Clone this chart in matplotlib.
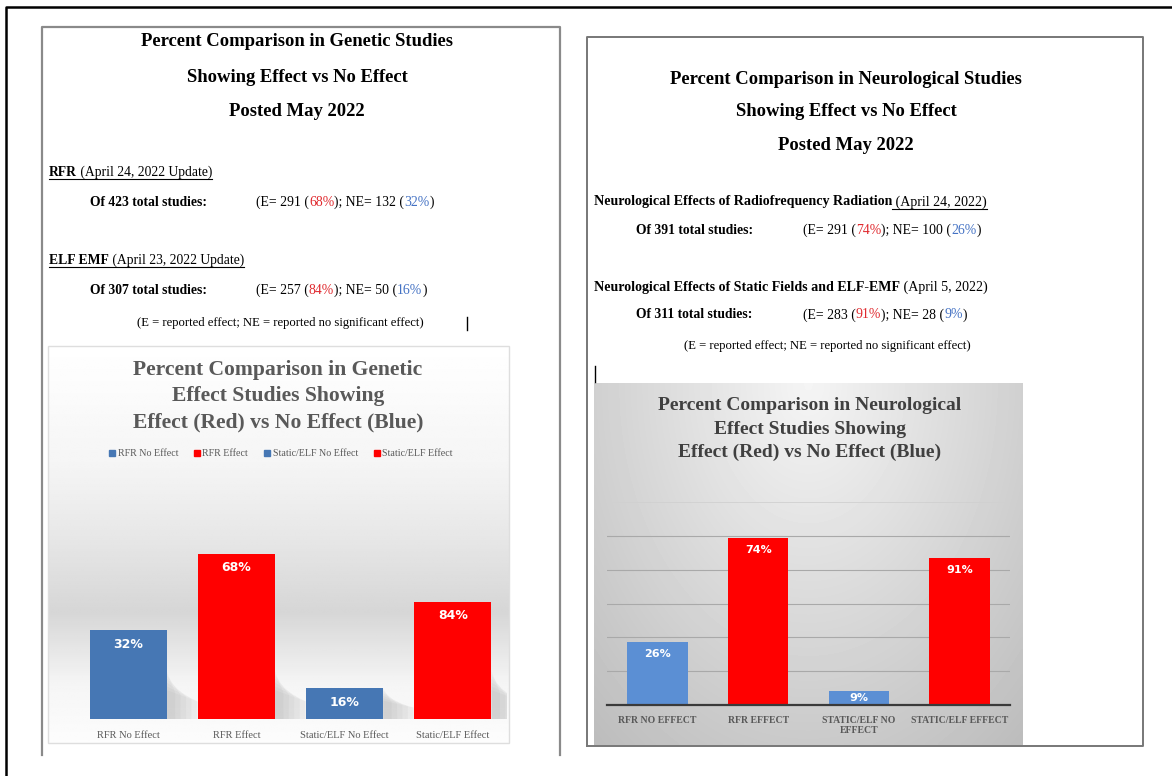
import matplotlib.pyplot as plt
import numpy as np
from matplotlib.patches import Rectangle, Polygon

W, H = 1172, 776
SERIF = ['Liberation Serif', 'DejaVu Serif']
SANS = ['DejaVu Sans']

# ---- data -------------------------------------------------------------
gen_cats = ['RFR No Effect', 'RFR Effect', 'Static/ELF No Effect', 'Static/ELF Effect']
gen_labels = ['32%', '68%', '16%', '84%']
gen_heights = [40.5, 75.5, 14, 53.5]      # bar heights as drawn in the picture
gen_colors = ['#4677b4', '#ff0000', '#4677b4', '#ff0000']

neu_cats = ['RFR NO EFFECT', 'RFR EFFECT', 'STATIC/ELF NO\nEFFECT', 'STATIC/ELF EFFECT']
neu_labels = ['26%', '74%', '9%', '91%']
neu_heights = [37, 98.5, 8.4, 87]
neu_colors = ['#5b8fd4', '#ff0000', '#5b8fd4', '#ff0000']

gen_head = ['Percent Comparison in Genetic Studies', 'Showing Effect vs No Effect', 'Posted May 2022']
neu_head = ['Percent Comparison in Neurological Studies', 'Showing Effect vs No Effect', 'Posted May 2022']
gen_title = ['Percent Comparison in Genetic', 'Effect Studies Showing', 'Effect (Red) vs No Effect (Blue)']
neu_title = ['Percent Comparison in Neurological', 'Effect Studies Showing', 'Effect (Red) vs No Effect (Blue)']
note = '(E = reported effect; NE = reported no significant effect)'

RED_T = '#e0292e'
BLUE_T = '#4472c4'

fig = plt.figure(figsize=(W / 100, H / 100), dpi=100)
ax0 = fig.add_axes([0, 0, 1, 1])
ax0.set_xlim(0, W)
ax0.set_ylim(H, 0)
ax0.axis('off')


def box(x0, y0, x1, y1):
    return [x0 / W, 1 - y1 / H, (x1 - x0) / W, (y1 - y0) / H]


def rich(x, y, parts, size):
    arts = []
    for s, color, weight in parts:
        if not arts:
            t = ax0.text(x, y, s, color=color, fontweight=weight, fontsize=size,
                         family=SERIF, va='center', ha='left')
        else:
            t = ax0.annotate(s, xy=(1, 0.5), xycoords=arts[-1], color=color,
                             fontweight=weight, fontsize=size, family=SERIF,
                             va='center', ha='left')
        arts.append(t)
    return arts


# ---- frames -----------------------------------------------------------
ax0.plot([6, 6, W], [H, 7, 7], color='black', lw=1.8)
ax0.plot([42, 42, 560, 560], [755, 27, 27, 755], color='#8a8a8a', lw=1.6)
ax0.plot([587, 587, 1143, 1143, 587], [746, 37, 37, 746, 746], color='#777777', lw=1.4)

# ---- left document text ------------------------------------------------
for s, yy in zip(gen_head, [42, 77, 111]):
    ax0.text(297, yy, s, fontsize=13.4, fontweight='bold', family=SERIF, ha='center', va='center')

u1 = rich(49, 172, [('RFR', 'black', 'bold'), (' (April 24, 2022 Update)', 'black', 'normal')], 9.8)
rich(90, 202, [('Of 423 total studies:', 'black', 'bold')], 9.8)
rich(256, 202, [('(E= 291 (', 'black', 'normal'), ('68%', RED_T, 'normal'), ('); NE= 132 (', 'black', 'normal'),
                ('32%', BLUE_T, 'normal'), (')', 'black', 'normal')], 9.9)
u2 = rich(49, 260, [('ELF EMF', 'black', 'bold'), (' (April 23, 2022 Update)', 'black', 'normal')], 9.8)
rich(90, 290, [('Of 307 total studies:', 'black', 'bold')], 9.8)
rich(256, 290, [('(E= 257 (', 'black', 'normal'), ('84%', RED_T, 'normal'), ('); NE= 50 (', 'black', 'normal'),
                ('16%', BLUE_T, 'normal'), (')', 'black', 'normal')], 9.9)
ax0.text(137, 323, note, fontsize=9.1, family=SERIF, ha='left', va='center')
ax0.plot([467, 467], [317, 330], color='black', lw=1)

# ---- right document text -----------------------------------------------
for s, yy in zip(neu_head, [79, 112, 145]):
    ax0.text(846, yy, s, fontsize=13.4, fontweight='bold', family=SERIF, ha='center', va='center')

u3 = rich(594, 202, [('Neurological Effects of Radiofrequency Radiation', 'black', 'bold'),
                     (' (April 24, 2022)', 'black', 'normal')], 10.1)
rich(636, 230, [('Of 391 total studies:', 'black', 'bold')], 9.8)
rich(803, 230, [('(E= 291 (', 'black', 'normal'), ('74%', RED_T, 'normal'), ('); NE= 100 (', 'black', 'normal'),
                ('26%', BLUE_T, 'normal'), (')', 'black', 'normal')], 9.9)
rich(594, 287, [('Neurological Effects of Static Fields and ELF-EMF', 'black', 'bold'),
                (' (April 5, 2022)', 'black', 'normal')], 10.1)
rich(636, 315, [('Of 311 total studies:', 'black', 'bold')], 9.8)
rich(803, 315, [('(E= 283 (', 'black', 'normal'), ('91%', RED_T, 'normal'), ('); NE= 28 (', 'black', 'normal'),
                ('9%', BLUE_T, 'normal'), (')', 'black', 'normal')], 9.9)
ax0.text(684, 346, note, fontsize=9.1, family=SERIF, ha='left', va='center')
ax0.plot([595, 595], [366, 382], color='black', lw=1)

# ---- chart backgrounds -------------------------------------------------
t = np.linspace(0, 1, 200)
prof = np.interp(t, [0, 0.3, 0.5, 0.67, 0.85, 1.0], [1.0, 0.96, 0.9, 0.84, 0.96, 0.99])
grad = np.repeat(prof[:, None], 20, axis=1)
ax0.imshow(grad, extent=(48, 509, 743, 346), cmap='gray', vmin=0, vmax=1,
           aspect='auto', zorder=0, interpolation='bilinear')
ax0.add_patch(Rectangle((48, 346), 461, 397, fill=False, ec='#dedede', lw=1))

gx, gy = np.meshgrid(np.linspace(-1, 1, 120), np.linspace(0, 1, 120))
r = np.sqrt((gx * 0.85) ** 2 + (gy * 1.0) ** 2)
grad2 = 0.96 - 0.22 * np.clip(r, 0, 1.3) / 1.3
ax0.imshow(grad2, extent=(594, 1023, 745, 383), cmap='gray', vmin=0, vmax=1,
           aspect='auto', zorder=0, interpolation='bilinear')
ax0.set_xlim(0, W)
ax0.set_ylim(H, 0)

# ---- left chart ----------------------------------------------------------
for s, yy in zip(gen_title, [370, 396, 422]):
    ax0.text(278, yy, s, fontsize=15.6, fontweight='bold', family=SERIF, color='#595959',
             ha='center', va='center')

ax1 = fig.add_axes(box(74, 500, 507, 719))
ax1.patch.set_alpha(0)
x = np.arange(len(gen_cats))
bw = 0.71
# soft shadows right of bars
for xi, h in zip(x, gen_heights):
    for k in range(6):
        dx = 0.08 + 0.05 * k
        hs = min(h, 22) * (1 - 0.08 * k)
        ax1.add_patch(Polygon([(xi + bw / 2, 0), (xi + bw / 2, hs), (xi + bw / 2 + dx, hs * 0.55),
                               (xi + bw / 2 + dx, 0)], closed=True, fc='#808080', ec='none',
                              alpha=0.06, zorder=1))
ax1.bar(x, gen_heights, width=bw, color=gen_colors, zorder=2)
for xi, h, lab in zip(x, gen_heights, gen_labels):
    ax1.annotate(lab, xy=(xi, h), xytext=(0, -14), textcoords='offset pixels', ha='center',
                 va='center', color='white', fontweight='bold', fontsize=9, family=SANS, zorder=3)
ax1.set_xlim(-0.5, 3.5)
ax1.set_ylim(0, 100)
ax1.set_yticks([])
ax1.set_xticks(x)
ax1.set_xticklabels(gen_cats, fontsize=7.5, family=SERIF, color='#595959')
ax1.tick_params(axis='x', length=0, pad=9)
for sp in ax1.spines.values():
    sp.set_visible(False)
handles = [Rectangle((0, 0), 1, 1, color=c) for c in gen_colors]
ax1.legend(handles, gen_cats, ncol=4, loc='center', bbox_to_anchor=(281 / W, 1 - 454 / H),
           bbox_transform=fig.transFigure, frameon=False, prop={'family': SERIF, 'size': 7.2},
           labelcolor='#595959', handlelength=0.55, handleheight=0.55, handletextpad=0.3,
           columnspacing=1.6)

# ---- right chart -------------------------------------------------------
for s, yy in zip(neu_title, [406, 429, 452]):
    ax0.text(810, yy, s, fontsize=14, fontweight='bold', family=SERIF, color='#404040',
             ha='center', va='center')

ax2 = fig.add_axes(box(607, 502, 1010, 705))
ax2.patch.set_alpha(0)
x2 = np.arange(len(neu_cats))
ax2.set_xlim(-0.5, 3.5)
ax2.set_ylim(0, 120)
ax2.set_yticks(np.arange(20, 101, 20))
ax2.yaxis.grid(True, color='#a9a9a9', lw=0.8)
ax2.set_axisbelow(True)
ax2.tick_params(axis='y', length=0, labelleft=False)
ax2.axhline(120, color='#d0d0d0', lw=0.6, zorder=0)
ax2.bar(x2, neu_heights, width=0.6, color=neu_colors, zorder=2)
px_per_unit = 203 / 120
for xi, h, lab in zip(x2, neu_heights, neu_labels):
    off = min(12, h * px_per_unit / 2)
    ax2.annotate(lab, xy=(xi, h), xytext=(0, -off), textcoords='offset pixels', ha='center',
                 va='center', color='white', fontweight='bold', fontsize=8, family=SANS, zorder=3)
ax2.set_xticks(x2)
ax2.set_xticklabels(neu_cats, fontsize=7, family=SERIF, color='#595959', fontweight='bold',
                    linespacing=1.1)
ax2.tick_params(axis='x', length=0, pad=8)
for sp in ['top', 'left', 'right']:
    ax2.spines[sp].set_visible(False)
ax2.spines['bottom'].set_color('#3a3a3a')
ax2.spines['bottom'].set_linewidth(1.6)

# ---- underlines ----------------------------------------------------------
fig.canvas.draw()
inv = ax0.transData.inverted()


def underline(arts, off=7):
    bbs = [a.get_window_extent() for a in arts]
    x0 = min(b.x0 for b in bbs)
    x1 = max(b.x1 for b in bbs)
    yc = (bbs[0].y0 + bbs[0].y1) / 2
    (dx0, dy), (dx1, _) = inv.transform([(x0, yc), (x1, yc)])
    ax0.plot([dx0, dx1], [dy + off, dy + off], color='black', lw=0.8)


underline(u1)
underline(u2)
underline(u3[1:])

fig.savefig('out.png', dpi=100)
